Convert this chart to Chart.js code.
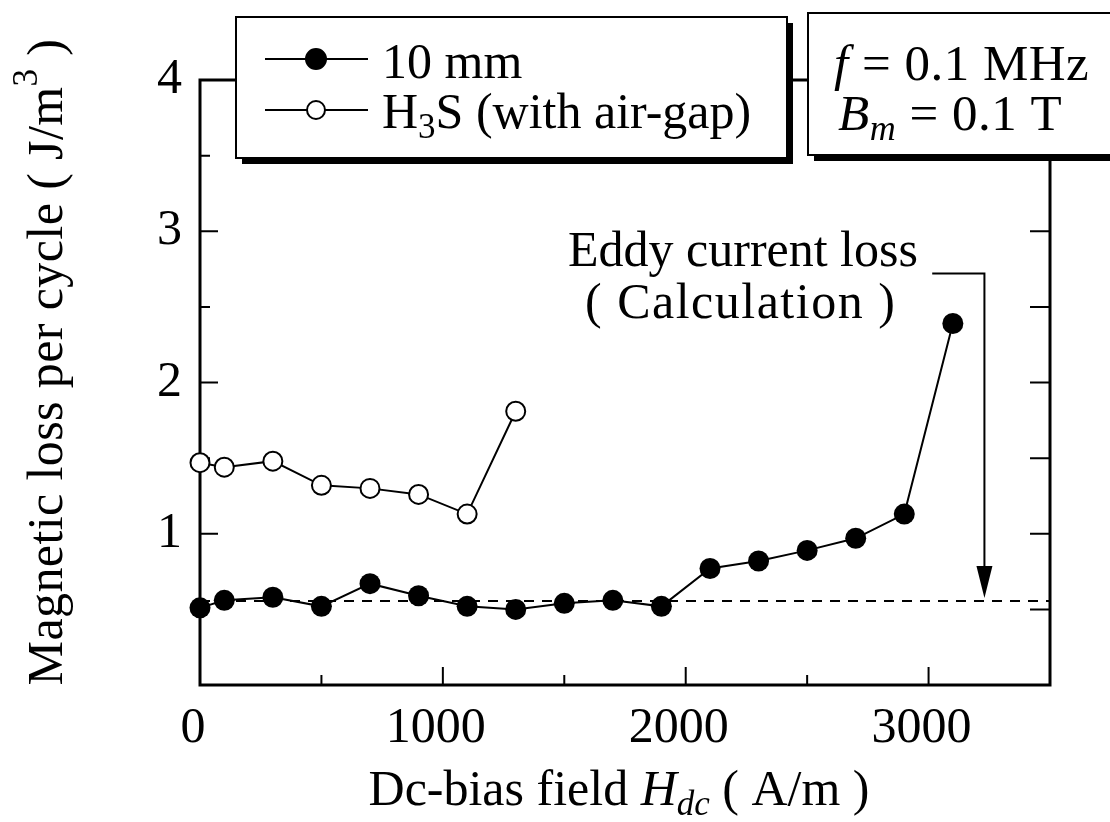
<!DOCTYPE html>
<html>
<head>
<meta charset="utf-8">
<script src="https://cdn.jsdelivr.net/npm/chart.js@4.4.0/dist/chart.umd.min.js"></script>
<style>
  html, body { margin: 0; padding: 0; background: #fff; }
  #wrap { width: 1110px; height: 822px; }
</style>
</head>
<body>
<div id="wrap"><canvas id="lossChart" width="1110" height="822"></canvas></div>
<script>
const FONT = "'Liberation Serif', 'Times New Roman', serif";

// Dc-bias field (A/m) and loss per cycle (J/m^3)
const hdcSolid = [0, 100, 300, 500, 700, 900, 1100, 1300, 1500, 1700, 1900, 2100, 2300, 2500, 2700, 2900, 3100];
const lossSolid = [0.51, 0.56, 0.58, 0.52, 0.67, 0.59, 0.52, 0.50, 0.54, 0.56, 0.52, 0.77, 0.82, 0.89, 0.97, 1.13, 2.39];
const hdcGap = [0, 100, 300, 500, 700, 900, 1100, 1300];
const lossGap = [1.47, 1.44, 1.48, 1.32, 1.30, 1.26, 1.13, 1.81];

// calculated eddy current loss and the arrow pointing at it
const eddyLoss = 0.556;
const arrowHdc = 3230;
const arrowElbow = [3015, 2.72];

const xTicks = [0, 1000, 2000, 3000];
const yTicks = [1, 2, 3, 4];

function richText(ctx, parts, x, y, size, align, spacing) {
  ctx.letterSpacing = (spacing || 0) + 'px';
  const segs = parts.map(p => {
    const s = (p.sub || p.sup) ? Math.round(size * 0.7) : size;
    const font = (p.it ? 'italic ' : '') + s + 'px ' + FONT;
    ctx.font = font;
    return Object.assign({}, p, { font: font, w: ctx.measureText(p.t).width });
  });
  const total = segs.reduce((a, s) => a + s.w, 0);
  let cx = align === 'center' ? x - total / 2 : x;
  ctx.textAlign = 'left';
  ctx.textBaseline = 'alphabetic';
  segs.forEach(s => {
    ctx.font = s.font;
    const dy = s.sub ? size * 0.2 : (s.sup ? -size * 0.5 : 0);
    ctx.fillText(s.t, cx, y + dy);
    cx += s.w;
  });
  ctx.letterSpacing = '0px';
}

function shadowBox(ctx, x, y, w, h) {
  ctx.fillStyle = '#000';
  ctx.fillRect(x + 6, y + 6, w, h);
  ctx.fillStyle = '#fff';
  ctx.fillRect(x, y, w, h);
  ctx.lineWidth = 2;
  ctx.strokeStyle = '#000';
  ctx.strokeRect(x, y, w, h);
}

// frame with inward ticks on bottom, left and right
const framePlugin = {
  id: 'frame',
  beforeDatasetsDraw(chart) {
    const { ctx, chartArea: a, scales: { x, y } } = chart;
    ctx.save();
    ctx.strokeStyle = '#000';
    ctx.lineWidth = 2;
    x.ticks.forEach(t => {
      const px = x.getPixelForValue(t.value);
      const len = xTicks.includes(t.value) ? 18 : 10;
      ctx.beginPath();
      ctx.moveTo(px, a.bottom);
      ctx.lineTo(px, a.bottom - len);
      ctx.stroke();
    });
    y.ticks.forEach(t => {
      const py = y.getPixelForValue(t.value);
      const len = yTicks.includes(t.value) ? 18 : 10;
      ctx.beginPath();
      ctx.moveTo(a.left, py);
      ctx.lineTo(a.left + len, py);
      ctx.moveTo(a.right, py);
      ctx.lineTo(a.right - 20, py);
      ctx.stroke();
    });
    ctx.lineWidth = 3;
    ctx.strokeRect(a.left, a.top, a.right - a.left, a.bottom - a.top);
    ctx.restore();
  },
  afterDraw(chart) {
    const { ctx, scales: { x, y } } = chart;
    ctx.save();
    ctx.fillStyle = '#000';
    ctx.strokeStyle = '#000';

    // eddy current annotation
    const ax = x.getPixelForValue(arrowHdc);
    const ay = y.getPixelForValue(arrowElbow[1]);
    const lx = x.getPixelForValue(arrowElbow[0]);
    const tip = y.getPixelForValue(eddyLoss) - 3;
    ctx.lineWidth = 2;
    ctx.beginPath();
    ctx.moveTo(lx, ay);
    ctx.lineTo(ax, ay);
    ctx.lineTo(ax, tip - 30);
    ctx.stroke();
    ctx.beginPath();
    ctx.moveTo(ax - 8, tip - 32);
    ctx.lineTo(ax + 8, tip - 32);
    ctx.lineTo(ax, tip);
    ctx.closePath();
    ctx.fill();
    richText(ctx, [{ t: 'Eddy current loss' }], 568, 266, 50, 'left');
    richText(ctx, [{ t: '( Calculation )' }], 585, 318, 50, 'left', 1.5);

    // legend
    shadowBox(ctx, 236, 17, 551, 141);
    ctx.fillStyle = '#000';
    ctx.lineWidth = 2;
    [59, 110].forEach((ly, i) => {
      ctx.beginPath();
      ctx.moveTo(265, ly);
      ctx.lineTo(368, ly);
      ctx.stroke();
      ctx.beginPath();
      ctx.arc(316, ly, i === 0 ? 10 : 9, 0, Math.PI * 2);
      ctx.fillStyle = i === 0 ? '#000' : '#fff';
      ctx.fill();
      ctx.stroke();
    });
    ctx.fillStyle = '#000';
    richText(ctx, [{ t: '10 mm' }], 382, 78, 50, 'left');
    richText(ctx, [{ t: 'H' }, { t: '3', sub: true }, { t: 'S (with air-gap)' }], 382, 128, 50, 'left');

    // measurement conditions
    shadowBox(ctx, 808, 13, 320, 142);
    ctx.fillStyle = '#000';
    richText(ctx, [{ t: 'f', it: true }, { t: ' = 0.1 MHz' }], 834, 80, 51, 'left', 0.5);
    richText(ctx, [{ t: 'B', it: true }, { t: 'm', it: true, sub: true }, { t: ' = 0.1 T' }], 838, 130, 51, 'left', 0.5);

    // axis titles
    richText(ctx, [{ t: 'Dc-bias field ' }, { t: 'H', it: true }, { t: 'dc', it: true, sub: true }, { t: ' ( A/m )' }], 619, 805, 50, 'center');
    ctx.translate(62, 362);
    ctx.rotate(-Math.PI / 2);
    richText(ctx, [{ t: 'Magnetic loss per cycle ( J/m' }, { t: '3', sup: true }, { t: ' )' }], 0, 0, 50, 'center', 0.4);
    ctx.restore();
  }
};

const ctx = document.getElementById('lossChart').getContext('2d');
new Chart(ctx, {
  type: 'line',
  data: {
    datasets: [
      {
        label: '10 mm',
        data: hdcSolid.map((h, i) => ({ x: h, y: lossSolid[i] })),
        borderColor: '#000',
        borderWidth: 2,
        pointRadius: 10.5,
        pointBackgroundColor: '#000',
        pointBorderColor: '#000',
        pointBorderWidth: 0,
        tension: 0,
        clip: false
      },
      {
        label: 'H3S (with air-gap)',
        data: hdcGap.map((h, i) => ({ x: h, y: lossGap[i] })),
        borderColor: '#000',
        borderWidth: 2,
        pointRadius: 9.5,
        pointBackgroundColor: '#fff',
        pointBorderColor: '#000',
        pointBorderWidth: 2,
        tension: 0,
        clip: false
      },
      {
        label: 'Eddy current loss (Calculation)',
        data: [{ x: 0, y: eddyLoss }, { x: 3500, y: eddyLoss }],
        borderColor: '#000',
        borderWidth: 2,
        borderDash: [10, 8],
        pointRadius: 0
      }
    ]
  },
  options: {
    responsive: false,
    animation: false,
    devicePixelRatio: 1,
    layout: { padding: { top: 80, right: 60, left: 0, bottom: 0 } },
    plugins: {
      legend: { display: false },
      tooltip: { enabled: false }
    },
    scales: {
      x: {
        type: 'linear',
        min: 0,
        max: 3500,
        afterFit: s => { s.height = 137; },
        grid: { display: false, drawTicks: false },
        border: { display: false },
        ticks: {
          stepSize: 500,
          autoSkip: false,
          maxRotation: 0,
          padding: 14,
          labelOffset: -7,
          color: '#000',
          font: { family: FONT, size: 50 },
          callback: v => xTicks.includes(v) ? String(v) : ''
        }
      },
      y: {
        min: 0,
        max: 4,
        afterFit: s => { s.width = 200; },
        grid: { display: false, drawTicks: false },
        border: { display: false },
        ticks: {
          stepSize: 0.5,
          autoSkip: false,
          padding: 18,
          color: '#000',
          font: { family: FONT, size: 50 },
          callback: v => yTicks.includes(v) ? String(v) : ''
        }
      }
    }
  },
  plugins: [framePlugin]
});
</script>
</body>
</html>
